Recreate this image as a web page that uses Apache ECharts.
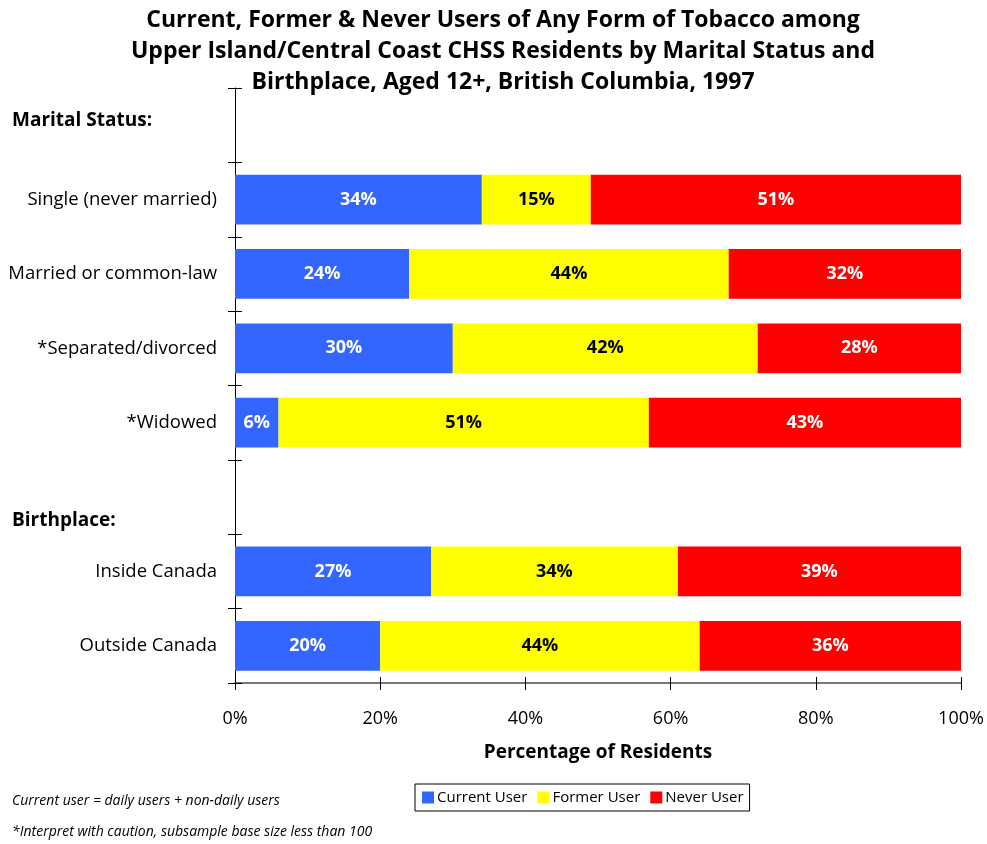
<!DOCTYPE html>
<html>
<head>
<meta charset="utf-8">
<script src="https://cdn.jsdelivr.net/npm/echarts@6/dist/echarts.min.js"></script>
<style>
  html, body { margin: 0; padding: 0; background: #fff; }
  #main { width: 987px; height: 844px; }
</style>
</head>
<body>
<div id="main"></div>
<script>
// rows top to bottom, blank rows hold the group headers
const categories = [' ', 'Single (never married)', 'Married or common-law', '*Separated/divorced', '*Widowed', '  ', 'Inside Canada', 'Outside Canada']
const currentUser = [null, 34, 24, 30, 6, null, 27, 20]
const formerUser = [null, 15, 44, 42, 51, null, 34, 44]
const neverUser = [null, 51, 32, 28, 43, null, 39, 36]
const xTicks = [0, 20, 40, 60, 80, 100]

const FONT = 'Open Sans'
const chart = echarts.init(document.getElementById('main'), null, { renderer: 'canvas' })

function barSeries(name, data, color, labelColor) {
  return {
    name: name,
    type: 'bar',
    stack: 'total',
    data: data,
    barWidth: '67%',
    itemStyle: { color: color },
    label: {
      show: true,
      position: 'inside',
      formatter: '{c}%',
      color: labelColor,
      fontFamily: FONT,
      fontWeight: 'bold',
      fontSize: 18
    }
  }
}

var option = {
  backgroundColor: '#fff',
  animation: false,
  title: {
    text: 'Current, Former & Never Users of Any Form of Tobacco among\nUpper Island/Central Coast CHSS Residents by Marital Status and\nBirthplace, Aged 12+, British Columbia, 1997',
    left: 498,
    textAlign: 'center',
    top: 0,
    textStyle: {
      fontFamily: FONT,
      fontWeight: 'bold',
      fontSize: 23,
      lineHeight: 31,
      color: '#000'
    }
  },
  legend: {
    left: 415,
    top: 784,
    icon: 'rect',
    itemWidth: 12,
    itemHeight: 12,
    itemGap: 10,
    padding: [6, 6, 6, 7],
    borderColor: '#000',
    borderWidth: 1,
    backgroundColor: '#fff',
    textStyle: { fontFamily: FONT, fontSize: 15, color: '#000', padding: [0, 0, 0, -2] },
    data: ['Current User', 'Former User', 'Never User']
  },
  grid: { left: 235, right: 26, top: 88, bottom: 161 },
  xAxis: [{
    type: 'value',
    min: 0,
    max: 100,
    interval: 20,
    name: 'Percentage of Residents',
    nameLocation: 'middle',
    nameGap: 60,
    nameTextStyle: { fontFamily: FONT, fontWeight: 'bold', fontSize: 19, color: '#000' },
    axisLine: { show: true, lineStyle: { color: '#777', width: 2 } },
    axisTick: { show: true, length: 7, lineStyle: { color: '#000' } },
    axisLabel: {
      margin: 27,
      fontFamily: FONT,
      fontSize: 18,
      color: '#000',
      formatter: v => xTicks.indexOf(v) >= 0 ? v + '%' : ''
    },
    splitLine: { show: false }
  }, {
    // second copy so the ticks cross the axis line
    type: 'value',
    min: 0,
    max: 100,
    interval: 20,
    position: 'bottom',
    axisLine: { show: false },
    axisTick: { show: true, inside: true, length: 6, lineStyle: { color: '#000' } },
    axisLabel: { show: false },
    splitLine: { show: false }
  }],
  yAxis: [{
    type: 'category',
    inverse: true,
    data: categories,
    axisLine: { show: true, lineStyle: { color: '#000', width: 1 } },
    axisTick: { show: true, length: 7, lineStyle: { color: '#000' } },
    axisLabel: { margin: 18, fontFamily: FONT, fontSize: 18.5, color: '#000' }
  }, {
    type: 'category',
    inverse: true,
    position: 'left',
    data: categories,
    axisLine: { show: false },
    axisTick: { show: true, inside: true, length: 7, lineStyle: { color: '#000' } },
    axisLabel: { show: false }
  }],
  graphic: [{
    type: 'text',
    left: 12,
    top: 111,
    style: { text: 'Marital Status:', font: 'bold 19px ' + FONT, fill: '#000' }
  }, {
    type: 'text',
    left: 12,
    top: 511,
    style: { text: 'Birthplace:', font: 'bold 19px ' + FONT, fill: '#000' }
  }, {
    type: 'text',
    left: 12,
    top: 794,
    style: { text: 'Current user = daily users + non-daily users', font: 'italic 14px ' + FONT, fill: '#000' }
  }, {
    type: 'text',
    left: 12,
    top: 825,
    style: { text: '*Interpret with caution, subsample base size less than 100', font: 'italic 14px ' + FONT, fill: '#000' }
  }],
  series: [
    barSeries('Current User', currentUser, '#3366FF', '#fff'),
    barSeries('Former User', formerUser, '#FFFF00', '#000'),
    barSeries('Never User', neverUser, '#FF0000', '#fff')
  ]
}

chart.setOption(option)
</script>
</body>
</html>
